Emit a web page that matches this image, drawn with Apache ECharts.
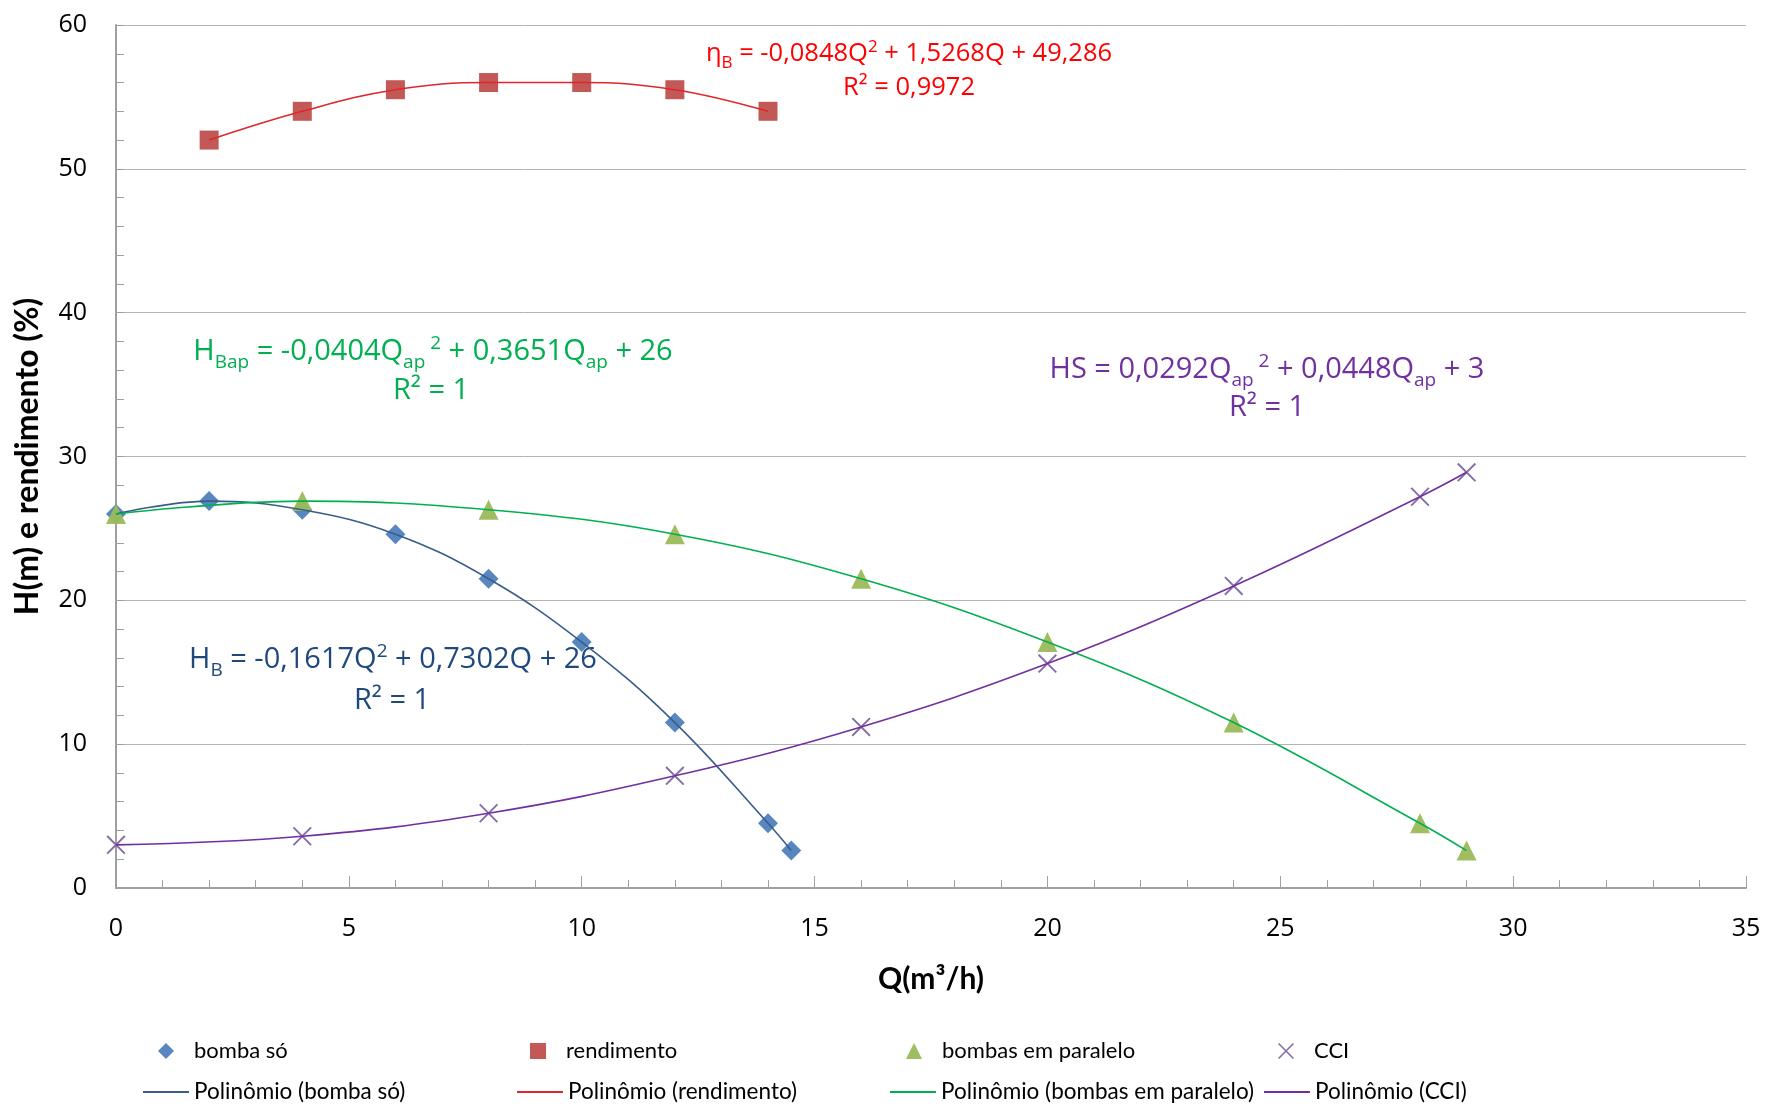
<!DOCTYPE html>
<html>
<head>
<meta charset="utf-8">
<script src="https://cdn.jsdelivr.net/npm/echarts@6/dist/echarts.min.js"></script>
<style>
  html, body { margin: 0; padding: 0; background: #fff; }
  #chart { width: 1769px; height: 1106px; }
</style>
</head>
<body>
<div id="chart"></div>
<script>
// pontos
const qBomba = [0, 2, 4, 6, 8, 10, 12, 14, 14.5]
const hBomba = [26, 26.9, 26.3, 24.6, 21.5, 17.1, 11.5, 4.5, 2.6]
const qRend = [2, 4, 6, 8, 10, 12, 14]
const rend = [52, 54, 55.5, 56, 56, 55.5, 54]
const qParalelo = [0, 4, 8, 12, 16, 20, 24, 28, 29]
const hParalelo = [26, 26.9, 26.3, 24.6, 21.5, 17.1, 11.5, 4.5, 2.6]
const qCci = [0, 4, 8, 12, 16, 20, 24, 28, 29]
const hCci = [3, 3.6, 5.2, 7.8, 11.2, 15.6, 21, 27.2, 28.9]

const nomes = ['bomba só', 'rendimento', 'bombas em paralelo', 'CCI']
const nomesTend = ['Polinômio (bomba só)', 'Polinômio (rendimento)', 'Polinômio (bombas em paralelo)', 'Polinômio (CCI)']

const FONT = 'Lato'
const EQFONT = 'Open Sans'
const xSymbol = 'path://M0,0.7L0.7,0L10,9.3L9.3,10Z M9.3,0L10,0.7L0.7,10L0,9.3Z'

function pares(xs, ys) {
  return xs.map((x, i) => [x, ys[i]])
}

const marcadores = [
  { data: pares(qBomba, hBomba), symbol: 'diamond', size: 20, color: '#4F81BD' },
  { data: pares(qRend, rend), symbol: 'rect', size: 19, color: '#C0504D' },
  { data: pares(qParalelo, hParalelo), symbol: 'triangle', size: 20, color: '#9BBB59' },
  { data: pares(qCci, hCci), symbol: xSymbol, size: 19, color: '#8064A2' }
]
const coresTend = ['#385D8A', '#E0262A', '#00B050', '#7030A0']

const series = []
marcadores.forEach((m, i) => {
  series.push({
    name: nomes[i],
    type: 'scatter',
    data: m.data,
    symbol: m.symbol,
    symbolSize: m.size,
    itemStyle: { color: m.color, opacity: 0.95 },
    z: 2
  })
})
marcadores.forEach((m, i) => {
  series.push({
    name: nomesTend[i],
    type: 'line',
    data: m.data,
    smooth: 0.4,
    symbol: 'none',
    lineStyle: { color: coresTend[i], width: 1.6 },
    itemStyle: { color: coresTend[i] },
    z: 3
  })
})

// legendas em colunas fixas
const colMarc = [158, 530, 906, 1278]
const colLinha = [143, 517, 890, 1264]
const legend = []
nomes.forEach((n, i) => {
  legend.push({
    data: [n],
    left: colMarc[i],
    top: 1040,
    padding: 0,
    itemWidth: 16,
    itemHeight: 16,
    selectedMode: false,
    textStyle: { fontFamily: FONT, fontSize: 22, color: '#000', padding: [0, 0, 0, 15] }
  })
})
nomesTend.forEach((n, i) => {
  legend.push({
    data: [{ name: n, icon: 'rect' }],
    left: colLinha[i],
    top: 1079,
    padding: 0,
    itemWidth: 46,
    itemHeight: 2,
    selectedMode: false,
    textStyle: { fontFamily: FONT, fontSize: 22.5, color: '#000', lineHeight: 26 }
  })
})

function eqRich(color, size) {
  const s = Math.round(size * 0.66)
  return {
    n: { fontFamily: EQFONT, fontSize: size, lineHeight: Math.round(size * 1.4), fill: color, color: color },
    sub: { fontFamily: EQFONT, fontSize: s, lineHeight: s, verticalAlign: 'bottom', fill: color, color: color },
    sup: { fontFamily: EQFONT, fontSize: s, lineHeight: s, verticalAlign: 'top', padding: [Math.round(size * 0.12), 0, 0, 0], fill: color, color: color }
  }
}
function eqText(x, y, text, color, size) {
  return {
    type: 'text',
    x: x,
    y: y,
    style: {
      text: text,
      rich: eqRich(color, size),
      align: 'center',
      verticalAlign: 'middle',
      fill: color,
      fontFamily: EQFONT,
      fontSize: size
    }
  }
}

const red = '#FF0000'
const green = '#00B050'
const purple = '#7030A0'
const blue = '#1F497D'

const graphic = [
  eqText(909, 54, '{n|η}{sub|B}{n| = -0,0848Q}{sup|2}{n| + 1,5268Q + 49,286}', red, 25.5),
  eqText(909, 88, '{n|R² = 0,9972}', red, 25.5),
  eqText(433, 352, '{n|H}{sub|Bap}{n| = -0,0404Q}{sub|ap}{sup| 2}{n| + 0,3651Q}{sub|ap}{n| + 26}', green, 29),
  eqText(431, 391, '{n|R² = 1}', green, 29),
  eqText(1267, 370, '{n|HS = 0,0292Q}{sub|ap}{sup| 2}{n| + 0,0448Q}{sub|ap}{n| + 3}', purple, 29),
  eqText(1267, 408, '{n|R² = 1}', purple, 29),
  eqText(393, 660, '{n|H}{sub|B}{n| = -0,1617Q}{sup|2}{n| + 0,7302Q + 26}', blue, 29),
  eqText(392, 701, '{n|R² = 1}', blue, 29)
]

const chart = echarts.init(document.getElementById('chart'))
chart.setOption({
  animation: false,
  backgroundColor: '#fff',
  grid: { left: 116, right: 23, top: 25, bottom: 218 },
  xAxis: {
    type: 'value',
    min: 0,
    max: 35,
    interval: 5,
    name: 'Q(m³/h)',
    nameLocation: 'middle',
    nameGap: 76,
    nameTextStyle: { fontFamily: FONT, fontSize: 30, fontWeight: 'bold', color: '#000' },
    axisLine: { lineStyle: { color: '#A0A0A0', width: 2 } },
    axisTick: { show: true, inside: true, length: 12, lineStyle: { color: '#A0A0A0', width: 1 } },
    minorTick: { show: true, splitNumber: 5, length: 8, lineStyle: { color: '#A0A0A0', width: 1 } },
    splitLine: { show: false },
    axisLabel: { fontFamily: EQFONT, fontSize: 25, color: '#000', margin: 28 }
  },
  yAxis: {
    type: 'value',
    min: 0,
    max: 60,
    interval: 10,
    name: 'H(m) e rendimento (%)',
    nameLocation: 'middle',
    nameGap: 72,
    nameTextStyle: { fontFamily: FONT, fontSize: 32, fontWeight: 'bold', color: '#000' },
    axisLine: { show: true, lineStyle: { color: '#A0A0A0', width: 2 } },
    axisTick: { show: true, inside: true, length: 8, lineStyle: { color: '#A0A0A0', width: 1 } },
    minorTick: { show: true, splitNumber: 5, length: 8, lineStyle: { color: '#A0A0A0', width: 1 } },
    splitLine: { show: true, lineStyle: { color: '#B4B4B4', width: 1 } },
    axisLabel: { fontFamily: EQFONT, fontSize: 25, color: '#000', margin: 29 }
  },
  legend: legend,
  graphic: graphic,
  series: series
})
</script>
</body>
</html>
